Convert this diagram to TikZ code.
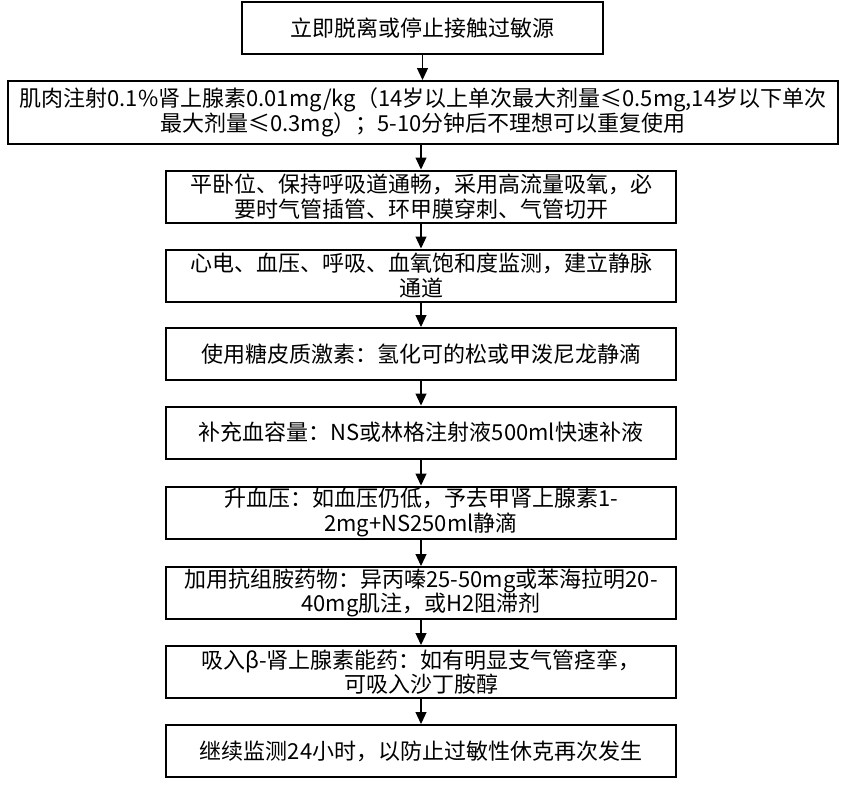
\documentclass[tikz,border=0pt]{standalone}
\usepackage{fontspec}
\setmainfont{Noto Sans CJK SC}
\usepackage{tikz}
\usetikzlibrary{arrows.meta}
\tikzset{>={Triangle[width=5.5pt,length=6pt]}}
\tikzset{box/.style={draw, line width=1pt, rectangle, inner sep=0pt, align=center,
    minimum height=26pt, font=\fontsize{11pt}{12.2pt}\selectfont}}

\begin{document}
\begin{tikzpicture}[x=0.5pt, y=-0.5pt]
    \useasboundingbox[fill=white] (0,0) rectangle (844,784);
    \node[box, minimum width=180.5pt] (leave) at (422.5,28) {立即脱离或停止接触过敏源};
    \node[box, minimum width=415pt, minimum height=31.5pt] (adrenaline) at (423,112.5)
        {肌肉注射0.1\%肾上腺素0.01mg/kg（14岁以上单次最大剂量≤0.5mg,14岁以下单次\\最大剂量≤0.3mg）；5-10分钟后不理想可以重复使用};
    \node[box, minimum width=255pt] (airway) at (421,196.5)
        {平卧位、保持呼吸道通畅，采用高流量吸氧，必\\要时气管插管、环甲膜穿刺、气管切开};
    \node[box, minimum width=255pt] (monitor) at (421,275.5)
        {心电、血压、呼吸、血氧饱和度监测，建立静脉\\通道};
    \node[box, minimum width=255pt] (steroid) at (421,354)
        {使用糖皮质激素：氢化可的松或甲泼尼龙静滴};
    \node[box, minimum width=255pt] (volume) at (421,432.5)
        {补充血容量：NS或林格注射液500ml快速补液};
    \node[box, minimum width=255pt] (pressure) at (421,512.5)
        {升血压：如血压仍低，予去甲肾上腺素1-\\2mg+NS250ml静滴};
    \node[box, minimum width=255pt] (antihist) at (421,593)
        {加用抗组胺药物：异丙嗪25-50mg或苯海拉明20-\\40mg肌注，或H2阻滞剂};
    \node[box, minimum width=255pt] (inhale) at (421,672)
        {吸入β-肾上腺素能药：如有明显支气管痉挛，\\可吸入沙丁胺醇};
    \node[box, minimum width=255pt] (watch) at (421,751)
        {继续监测24小时，以防止过敏性休克再次发生};
    % arrows
    \draw[line width=0.6pt,->] (leave) -- (leave |- adrenaline.north);
    \draw[line width=0.6pt,->] (adrenaline.south -| airway) -- (airway);
    \draw[line width=0.6pt,->] (airway) -- (monitor);
    \draw[line width=0.6pt,->] (monitor) -- (steroid);
    \draw[line width=0.6pt,->] (steroid) -- (volume);
    \draw[line width=0.6pt,->] (volume) -- (pressure);
    \draw[line width=0.6pt,->] (pressure) -- (antihist);
    \draw[line width=0.6pt,->] (antihist) -- (inhale);
    \draw[line width=0.6pt,->] (inhale) -- (watch);
\end{tikzpicture}
\end{document}
